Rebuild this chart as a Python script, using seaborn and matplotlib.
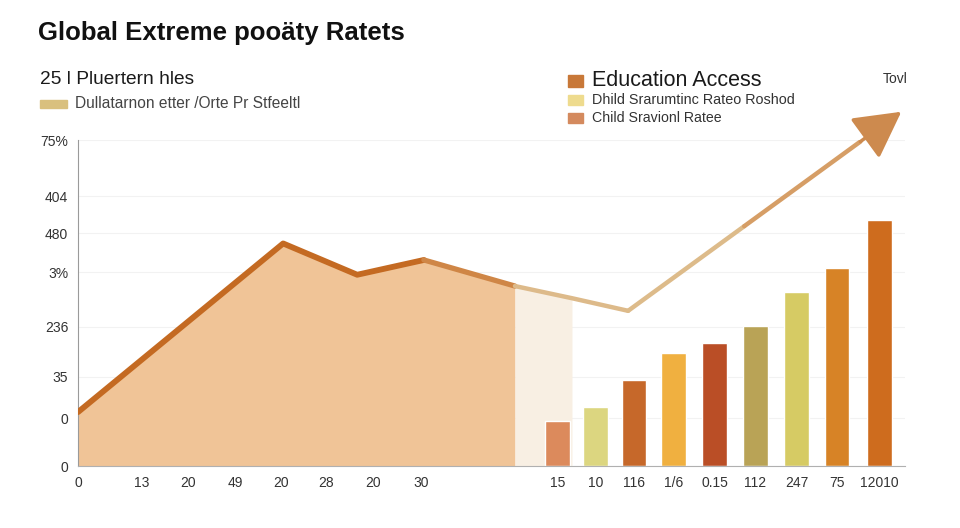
import matplotlib
matplotlib.use("Agg")
import matplotlib.pyplot as plt
import matplotlib.patches as mpatches
import seaborn as sns

# trend line (area part, pale part, rising arrow)
trend_x = [0, 4.46, 6.07, 7.52, 9.5, 10.74, 11.96, 17.9]
trend_y = [12.4, 51.2, 44.0, 47.4, 41.4, 38.6, 35.7, 81.5]

# bars on the right
bar_x = [10.42, 11.25, 12.09, 12.95, 13.84, 14.73, 15.62, 16.5, 17.43]
bar_vals = [10.4, 13.6, 19.8, 26.0, 28.3, 32.2, 40.0, 45.5, 56.6]
bar_labels = ["15", "10", "116", "1/6", "0.15", "112", "247", "75", "12010"]
bar_colors = ["#DC8A5C", "#DCD680", "#C6682A", "#F0B040", "#BA4E26",
              "#B9A356", "#D6CB64", "#D78326", "#CE6C1E"]

left_ticks = [0, 1.39, 2.39, 3.41, 4.41, 5.39, 6.41, 7.46]
left_labels = ["0", "13", "20", "49", "20", "28", "20", "30"]

y_ticks = [0, 11.0, 20.5, 32.0, 44.6, 53.6, 62.1, 75]
y_labels = ["0", "0", "35", "236", "3%", "480", "404", "75%"]

title = "Global Extreme poo\u00e4ty Ratets"
subtitle = "25 l Pluertern hles"
legend_left = "Dullatarnon etter /Orte Pr Stfeeltl"
legend_right = ["Education Access", "Dhild Srarumtinc Rateo Roshod", "Child Sravionl Ratee"]
legend_right_colors = ["#C87838", "#EEDB8E", "#D48A5E"]
corner_note = "Tovl"

sns.set_theme(style="white")
plt.rcParams['font.family'] = ['Liberation Sans', 'DejaVu Sans']

fig = plt.figure(figsize=(9.6, 5.28), dpi=100)
ax = fig.add_axes([78/960, 62/528, 827/960, 326/528])

# filled area and the pale gap after it
ax.fill_between(trend_x[:5], trend_y[:5], color="#F0C497", lw=0, zorder=1)
ax.fill_between(trend_x[4:6], trend_y[4:6], color="#F8EFE3", lw=0, zorder=1)

sns.barplot(x=bar_x, y=bar_vals, hue=bar_labels, palette=bar_colors,
            native_scale=True, dodge=False, legend=False, width=0.65,
            saturation=1, ax=ax, zorder=2)

# line pieces, darker over the area, lighter tan afterwards
frac = 0.85
ax_base = trend_x[6] + frac * (trend_x[7] - trend_x[6])
ay_base = trend_y[6] + frac * (trend_y[7] - trend_y[6])
mid_x = (trend_x[6] + ax_base) / 2
mid_y = (trend_y[6] + ay_base) / 2

sns.lineplot(x=trend_x[:4], y=trend_y[:4], sort=False, color="#C46A22", lw=4.2, ax=ax, zorder=4)
sns.lineplot(x=trend_x[3:5], y=trend_y[3:5], sort=False, color="#CF8646", lw=3.8, ax=ax, zorder=4)
sns.lineplot(x=trend_x[4:7], y=trend_y[4:7], sort=False, color="#DDBA8A", lw=3.2, ax=ax, zorder=4)
sns.lineplot(x=[trend_x[6], mid_x], y=[trend_y[6], mid_y], sort=False, color="#DDBB8A", lw=3.2, ax=ax, zorder=4)
sns.lineplot(x=[mid_x, ax_base], y=[mid_y, ay_base], sort=False, color="#D69E66", lw=3.2, ax=ax, zorder=4)
ax.annotate("", xy=(trend_x[7], trend_y[7]), xytext=(ax_base, ay_base),
            arrowprops=dict(arrowstyle="-|>,head_length=2.4,head_width=1.3",
                            color="#CD8A4E", lw=2.5, shrinkA=0, shrinkB=0),
            annotation_clip=False, zorder=5)

ax.set_xlim(0, 17.98)
ax.set_ylim(0, 75)
ax.set_xticks(left_ticks + bar_x)
ax.set_xticklabels(left_labels + bar_labels)
ax.set_yticks(y_ticks)
ax.set_yticklabels(y_labels)
ax.set_xlabel("")
ax.set_ylabel("")
ax.tick_params(axis="both", labelsize=10, labelcolor="#333333", length=3,
               color="#A0A0A0", width=0.8, pad=4)
ax.yaxis.grid(True, color="#F2F2F2", lw=0.8)
ax.set_axisbelow(True)
sns.despine(ax=ax)
ax.spines["left"].set_color("#9A9A9A")
ax.spines["left"].set_linewidth(0.8)
ax.spines["bottom"].set_color("#B0B0B0")
ax.spines["bottom"].set_linewidth(0.8)

# titles and legends in figure coordinates
def fx(px):
    return px / 960

def fy(py):
    return 1 - py / 528

fig.text(fx(38), fy(33), title, fontsize=18.5, weight="bold", color="#111111", va="center")
fig.text(fx(40), fy(80), subtitle, fontsize=13.8, color="#1A1A1A", va="center")
fig.patches.append(mpatches.Rectangle((fx(40), fy(108)), 27/960, 8/528,
                                      color="#D9C07E", transform=fig.transFigure))
fig.text(fx(75), fy(103), legend_left, fontsize=11.2, color="#444444", va="center")

leg_y = [81, 100, 118]
leg_h = [12, 9, 10]
leg_fs = [15.5, 10.4, 10.2]
for txt, col, yy, hh, fs in zip(legend_right, legend_right_colors, leg_y, leg_h, leg_fs):
    fig.patches.append(mpatches.Rectangle((fx(568), fy(yy + hh / 2)), 15/960, hh/528,
                                          color=col, transform=fig.transFigure))
    fig.text(fx(592), fy(yy), txt, fontsize=fs, color="#1A1A1A" if fs > 11 else "#333333",
             va="center")
fig.text(fx(883), fy(79), corner_note, fontsize=10, color="#333333", va="center")

fig.savefig("out.png", dpi=100)
